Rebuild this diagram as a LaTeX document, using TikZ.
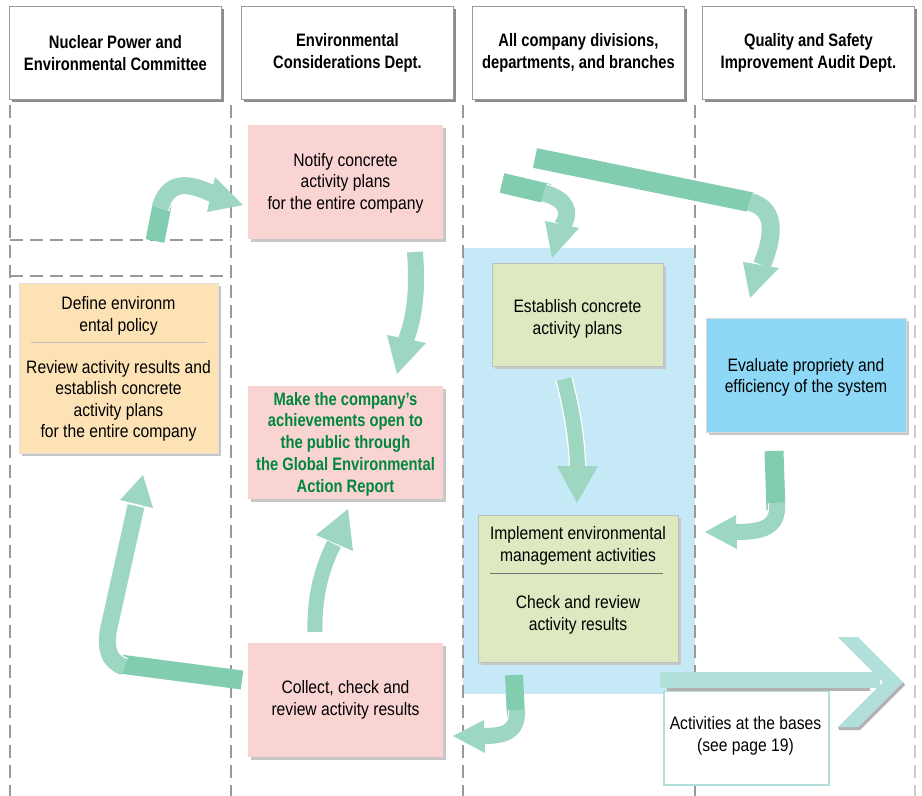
\documentclass[tikz,border=0pt]{standalone}
\usepackage{fontspec}
\setmainfont{Liberation Sans}[FakeStretch=0.87]
\newfontfamily\headfont{Liberation Sans}[FakeStretch=0.82]
\usetikzlibrary{shadows}
\definecolor{pinkbox}{HTML}{FAD3D3}
\definecolor{peachbox}{HTML}{FDE2B6}
\definecolor{greenbox}{HTML}{DDE9C0}
\definecolor{bluebox}{HTML}{8DD8F6}
\definecolor{bluezone}{HTML}{C6E9F8}
\definecolor{ribdark}{HTML}{82CCB0}
\definecolor{riblight}{HTML}{9DD6C1}
\definecolor{bigarrow}{HTML}{B1DFDA}
\definecolor{reportgreen}{HTML}{00873D}
\definecolor{laneline}{HTML}{9A9A9A}
\begin{document}
\begin{tikzpicture}[x=1pt,y=-1pt,
  every node/.style={font=\fontsize{18}{21.5}\selectfont, align=center, inner sep=0pt},
  header/.style={draw=black!40, fill=white, line width=0.8pt, minimum width=212pt,
    minimum height=93pt, anchor=north west,
    drop shadow={shadow xshift=3pt, shadow yshift=-3pt, fill=black!45, opacity=1},
    font=\fontsize{18}{21.5}\selectfont\headfont\bfseries},
  box/.style={anchor=north west,
    drop shadow={shadow xshift=3pt, shadow yshift=-3pt, fill=black!22, opacity=1}},
  lane/.style={draw=laneline, line width=1.2pt, dash pattern=on 13pt off 7pt},
  darkrib/.style={draw=ribdark, line width=#1},
  lightrib/.style={draw=riblight, line width=#1,
    preaction={draw=white, line width=#1+2.5pt}},
  head/.style={fill=riblight}
]
\useasboundingbox[fill=white] (0,0) rectangle (922,796);

% ---- column headers
\node[header] (h1) at (9,6)   {Nuclear Power and\\Environmental Committee};
\node[header] (h2) at (241,6) {Environmental\\Considerations Dept.};
\node[header] (h3) at (472,6) {All company divisions,\\departments, and branches};
\node[header] (h4) at (702,6) {Quality and Safety\\Improvement Audit Dept.};

% ---- zone of the company divisions
\fill[bluezone] (463,248) rectangle (695,694);

% ---- swimlane separators
\draw[lane] (10,105) -- (10,796);
\draw[lane] (231,105) -- (231,796);
\draw[lane] (463,105) -- (463,796);
\draw[lane] (695,105) -- (695,796);
\draw[lane, draw=black!20] (915,105) -- (915,796);
\draw[lane] (10,240) -- (231,240);
\draw[lane] (10,276) -- (231,276);

% ---- process boxes
\node[box, fill=pinkbox, minimum width=195pt, minimum height=114pt] (notify) at (248,125) {};
\node at (345.5,183) {Notify concrete\\activity plans\\for the entire company};

\node[box, fill=peachbox, draw=black!12, minimum width=199pt, minimum height=170pt] (define) at (19,283) {};
\node (definetxt) at (118.5,316) {Define environm\\ental policy};
\draw[black!25, line width=1pt] (31,342) -- (207,342);
\node (reviewtxt) at (118.5,401) {Review activity results and\\establish concrete\\activity plans\\for the entire company};

\node[box, fill=pinkbox, minimum width=195pt, minimum height=113pt] (make) at (248,386) {};
\node[font=\fontsize{18}{21.7}\selectfont\headfont\bfseries, text=reportgreen] at (345.5,444)
  {Make the company’s\\achievements open to\\the public through\\the Global Environmental\\Action Report};

\node[box, fill=pinkbox, minimum width=195pt, minimum height=114pt] (collect) at (248,643) {};
\node at (345.5,700) {Collect, check and\\review activity results};

\node[box, fill=greenbox, draw=black!25, minimum width=171pt, minimum height=103pt] (establish) at (492,263) {};
\node at (577.5,319) {Establish concrete\\activity plans};

\node[box, fill=bluebox, draw=black!15, minimum width=200pt, minimum height=114pt] (evaluate) at (706,318) {};
\node at (806,377.5) {Evaluate propriety and\\efficiency of the system};

\node[box, fill=greenbox, draw=black!25, minimum width=200pt, minimum height=147pt] (implement) at (478,515) {};
\node at (578,546) {Implement environmental\\management activities};
\draw[black!55, line width=1pt] (490,573) -- (663,573);
\node at (578,615) {Check and review\\activity results};

\node[draw=bigarrow, line width=2pt, fill=white, minimum width=165pt, minimum height=94pt, anchor=north west] (bases) at (663,690) {};
\node at (745.5,736) {Activities at the bases\\(see page 19)};

% ---- big arrow towards the bases
\fill[black!30] (667,687) rectangle (870,691);
\fill[black!30] (839,730) -- (860,730) -- (905,685) -- (903,682) -- (858,727) -- (838,727) -- cycle;
\fill[bigarrow] (660,672) rectangle (880,688);
\fill[bigarrow] (838,637) -- (858,637) -- (903,682) -- (858,727) -- (838,727) -- (883,682) -- cycle;

% ---- ribbon arrows
% committee -> notify
\coordinate (a0) at (155,241);
\coordinate (a1) at (163,200);
\draw[darkrib=19pt] (a0) -- (a1);
\draw[lightrib=17pt] (160,208) .. controls (168,180) and (188,182) .. (213,194);
\fill[head] (215,177) -- (243,205) -- (207,212) -- cycle;

% notify -> make
\draw[lightrib=16pt] (415,252) .. controls (418,295) and (414,318) .. (406,340);
\fill[head] (387,335) -- (397,374) -- (426,343) -- cycle;

% collect -> make
\draw[lightrib=15pt] (315,632) .. controls (314,590) and (325,562) .. (334,544);
\fill[head] (316,535) -- (348,509) -- (353,551) -- cycle;

% collect -> define
\draw[darkrib=19pt] (242,680) -- (120,664);
\draw[lightrib=17pt] (124,667) .. controls (108,661) and (106,648) .. (108,632) -- (136,506);
\fill[head] (120,500) -- (143,475) -- (153,508) -- cycle;

% notify -> establish
\draw[darkrib=20pt] (502,183) -- (549,194);
\draw[lightrib=17pt] (544,193) .. controls (566,199) and (572,212) .. (562,226);
\fill[head] (545,221) -- (552,258) -- (579,228) -- cycle;

% notify -> evaluate
\draw[darkrib=20pt] (535,158) -- (755,203);
\draw[lightrib=18pt] (750,202) .. controls (778,209) and (773,238) .. (762,265);
\fill[head] (743,262) -- (750,298) -- (779,268) -- cycle;

% establish -> implement
\draw[lightrib=15pt] (564,379) .. controls (572,410) and (577,440) .. (577.5,467);
\fill[head] (557,466) -- (577,503) -- (598,466) -- cycle;

% evaluate -> implement
\draw[darkrib=19pt] (774,451) -- (776,510);
\draw[lightrib=16pt] (777,503) .. controls (779,528) and (762,532) .. (735,532);
\fill[head] (736,515) -- (705,532) -- (737,549) -- cycle;

% implement -> collect
\draw[darkrib=18pt] (514,675) -- (516,717);
\draw[lightrib=16pt] (517,710) .. controls (518,733) and (503,736) .. (483,736);
\fill[head] (484,720) -- (453,736) -- (485,753) -- cycle;
\end{tikzpicture}
\end{document}
